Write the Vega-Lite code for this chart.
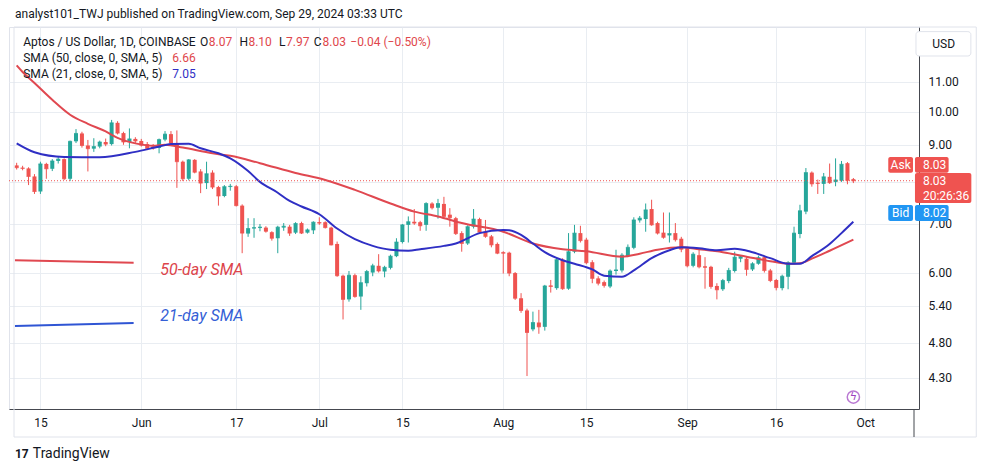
{
"$schema":"https://vega.github.io/schema/vega-lite/v6.json",
"width":910,"height":382,
"autosize":{"type":"none"},
"padding":{"left":9,"top":27,"right":72,"bottom":63},
"background":"white",
"config":{"view":{"stroke":"#e0e3eb"},"font":"Roboto","text":{"font":"Roboto"}},
"resolve":{"axis":{"x":"independent","y":"independent"}},
"data":{"values":[{}]},
"datasets":{
"candles":[
{"d":"2024-05-11","o":8.43,"h":8.50,"l":8.32,"c":8.37},
{"d":"2024-05-12","o":8.37,"h":8.42,"l":8.30,"c":8.35},
{"d":"2024-05-13","o":8.35,"h":8.38,"l":7.92,"c":8.14},
{"d":"2024-05-14","o":8.14,"h":8.20,"l":7.70,"c":7.76},
{"d":"2024-05-15","o":7.76,"h":8.53,"l":7.70,"c":8.47},
{"d":"2024-05-16","o":8.47,"h":8.50,"l":8.08,"c":8.34},
{"d":"2024-05-17","o":8.34,"h":8.60,"l":8.28,"c":8.55},
{"d":"2024-05-18","o":8.55,"h":8.67,"l":8.48,"c":8.60},
{"d":"2024-05-19","o":8.60,"h":8.62,"l":8.05,"c":8.08},
{"d":"2024-05-20","o":8.08,"h":9.12,"l":8.02,"c":9.10},
{"d":"2024-05-21","o":9.10,"h":9.46,"l":9.05,"c":9.33},
{"d":"2024-05-22","o":9.33,"h":9.38,"l":8.92,"c":8.98},
{"d":"2024-05-23","o":8.98,"h":9.14,"l":8.27,"c":8.89},
{"d":"2024-05-24","o":8.89,"h":9.19,"l":8.80,"c":8.95},
{"d":"2024-05-25","o":8.95,"h":9.12,"l":8.90,"c":9.08},
{"d":"2024-05-26","o":9.08,"h":9.18,"l":8.96,"c":9.02},
{"d":"2024-05-27","o":9.02,"h":9.74,"l":8.98,"c":9.65},
{"d":"2024-05-28","o":9.65,"h":9.70,"l":9.30,"c":9.34},
{"d":"2024-05-29","o":9.34,"h":9.38,"l":9.00,"c":9.08},
{"d":"2024-05-30","o":9.08,"h":9.48,"l":8.90,"c":9.17},
{"d":"2024-05-31","o":9.17,"h":9.22,"l":9.05,"c":9.11},
{"d":"2024-06-01","o":9.11,"h":9.17,"l":8.95,"c":8.99},
{"d":"2024-06-02","o":9.02,"h":9.08,"l":8.85,"c":8.90},
{"d":"2024-06-03","o":8.95,"h":9.02,"l":8.86,"c":8.91},
{"d":"2024-06-04","o":8.91,"h":9.18,"l":8.76,"c":9.15},
{"d":"2024-06-05","o":9.15,"h":9.40,"l":9.10,"c":9.31},
{"d":"2024-06-06","o":9.31,"h":9.40,"l":9.00,"c":9.05},
{"d":"2024-06-07","o":9.05,"h":9.42,"l":7.85,"c":8.53},
{"d":"2024-06-08","o":8.53,"h":8.56,"l":8.02,"c":8.08},
{"d":"2024-06-09","o":8.08,"h":8.60,"l":8.04,"c":8.58},
{"d":"2024-06-10","o":8.58,"h":8.60,"l":8.22,"c":8.25},
{"d":"2024-06-11","o":8.27,"h":8.33,"l":7.72,"c":7.97},
{"d":"2024-06-12","o":7.97,"h":8.53,"l":7.82,"c":8.21},
{"d":"2024-06-13","o":8.24,"h":8.30,"l":7.82,"c":7.87},
{"d":"2024-06-14","o":7.87,"h":7.90,"l":7.42,"c":7.65},
{"d":"2024-06-15","o":7.65,"h":7.92,"l":7.62,"c":7.88},
{"d":"2024-06-16","o":7.87,"h":7.95,"l":7.78,"c":7.89},
{"d":"2024-06-17","o":7.89,"h":7.92,"l":7.40,"c":7.42},
{"d":"2024-06-18","o":7.42,"h":7.45,"l":6.38,"c":6.80},
{"d":"2024-06-19","o":6.79,"h":7.13,"l":6.72,"c":6.90},
{"d":"2024-06-20","o":6.90,"h":7.13,"l":6.70,"c":6.92},
{"d":"2024-06-21","o":6.91,"h":7.00,"l":6.84,"c":6.93},
{"d":"2024-06-22","o":6.92,"h":6.95,"l":6.81,"c":6.84},
{"d":"2024-06-23","o":6.82,"h":6.84,"l":6.64,"c":6.69},
{"d":"2024-06-24","o":6.69,"h":6.96,"l":6.38,"c":6.93},
{"d":"2024-06-25","o":6.92,"h":7.02,"l":6.85,"c":6.95},
{"d":"2024-06-26","o":6.94,"h":6.98,"l":6.74,"c":6.80},
{"d":"2024-06-27","o":6.81,"h":7.04,"l":6.78,"c":7.01},
{"d":"2024-06-28","o":7.02,"h":7.05,"l":6.78,"c":6.80},
{"d":"2024-06-29","o":6.81,"h":6.90,"l":6.79,"c":6.87},
{"d":"2024-06-30","o":6.86,"h":7.06,"l":6.78,"c":7.04},
{"d":"2024-07-01","o":7.04,"h":7.15,"l":6.98,"c":7.02},
{"d":"2024-07-02","o":7.04,"h":7.06,"l":6.90,"c":6.92},
{"d":"2024-07-03","o":6.92,"h":6.94,"l":6.54,"c":6.55},
{"d":"2024-07-04","o":6.57,"h":6.62,"l":5.92,"c":5.94},
{"d":"2024-07-05","o":5.94,"h":5.96,"l":5.17,"c":5.51},
{"d":"2024-07-06","o":5.51,"h":6.03,"l":5.47,"c":5.95},
{"d":"2024-07-07","o":5.95,"h":5.98,"l":5.54,"c":5.56},
{"d":"2024-07-08","o":5.56,"h":5.93,"l":5.33,"c":5.81},
{"d":"2024-07-09","o":5.80,"h":6.05,"l":5.74,"c":6.02},
{"d":"2024-07-10","o":6.00,"h":6.17,"l":5.93,"c":6.13},
{"d":"2024-07-11","o":6.13,"h":6.36,"l":6.00,"c":6.03},
{"d":"2024-07-12","o":6.02,"h":6.13,"l":5.91,"c":6.10},
{"d":"2024-07-13","o":6.09,"h":6.35,"l":6.06,"c":6.32},
{"d":"2024-07-14","o":6.32,"h":6.69,"l":6.30,"c":6.61},
{"d":"2024-07-15","o":6.61,"h":7.00,"l":6.58,"c":6.98},
{"d":"2024-07-16","o":6.98,"h":7.17,"l":6.60,"c":7.05},
{"d":"2024-07-17","o":7.05,"h":7.34,"l":6.98,"c":7.02},
{"d":"2024-07-18","o":7.04,"h":7.07,"l":6.85,"c":6.96},
{"d":"2024-07-19","o":6.98,"h":7.50,"l":6.85,"c":7.47},
{"d":"2024-07-20","o":7.47,"h":7.50,"l":7.33,"c":7.37},
{"d":"2024-07-21","o":7.37,"h":7.58,"l":7.12,"c":7.47},
{"d":"2024-07-22","o":7.46,"h":7.63,"l":7.12,"c":7.17},
{"d":"2024-07-23","o":7.21,"h":7.36,"l":6.94,"c":7.14},
{"d":"2024-07-24","o":7.13,"h":7.16,"l":6.76,"c":6.79},
{"d":"2024-07-25","o":6.80,"h":6.84,"l":6.41,"c":6.58},
{"d":"2024-07-26","o":6.58,"h":6.97,"l":6.55,"c":6.94},
{"d":"2024-07-27","o":6.94,"h":7.34,"l":6.90,"c":7.11},
{"d":"2024-07-28","o":7.11,"h":7.14,"l":6.78,"c":6.82},
{"d":"2024-07-29","o":6.83,"h":7.09,"l":6.70,"c":6.73},
{"d":"2024-07-30","o":6.73,"h":6.76,"l":6.50,"c":6.55},
{"d":"2024-07-31","o":6.57,"h":6.60,"l":6.36,"c":6.38},
{"d":"2024-08-01","o":6.40,"h":6.42,"l":5.98,"c":6.38},
{"d":"2024-08-02","o":6.39,"h":6.41,"l":5.93,"c":5.99},
{"d":"2024-08-03","o":5.99,"h":6.01,"l":5.50,"c":5.53},
{"d":"2024-08-04","o":5.53,"h":5.62,"l":5.28,"c":5.32},
{"d":"2024-08-05","o":5.32,"h":5.35,"l":4.32,"c":4.96},
{"d":"2024-08-06","o":5.01,"h":5.30,"l":4.98,"c":5.12},
{"d":"2024-08-07","o":5.12,"h":5.33,"l":4.94,"c":5.05},
{"d":"2024-08-08","o":5.05,"h":5.77,"l":4.99,"c":5.75},
{"d":"2024-08-09","o":5.76,"h":5.86,"l":5.63,"c":5.74},
{"d":"2024-08-10","o":5.71,"h":6.30,"l":5.68,"c":6.25},
{"d":"2024-08-11","o":6.25,"h":6.28,"l":5.68,"c":5.70},
{"d":"2024-08-12","o":5.70,"h":6.80,"l":5.68,"c":6.41},
{"d":"2024-08-13","o":6.41,"h":6.98,"l":6.38,"c":6.80},
{"d":"2024-08-14","o":6.80,"h":6.96,"l":6.60,"c":6.64},
{"d":"2024-08-15","o":6.66,"h":6.70,"l":6.16,"c":6.19},
{"d":"2024-08-16","o":6.20,"h":6.24,"l":5.80,"c":5.89},
{"d":"2024-08-17","o":5.89,"h":5.93,"l":5.76,"c":5.80},
{"d":"2024-08-18","o":5.82,"h":5.85,"l":5.72,"c":5.76},
{"d":"2024-08-19","o":5.74,"h":6.06,"l":5.71,"c":6.03},
{"d":"2024-08-20","o":6.03,"h":6.45,"l":5.96,"c":6.05},
{"d":"2024-08-21","o":6.04,"h":6.38,"l":6.00,"c":6.34},
{"d":"2024-08-22","o":6.32,"h":6.56,"l":6.30,"c":6.50},
{"d":"2024-08-23","o":6.49,"h":7.15,"l":6.46,"c":7.09},
{"d":"2024-08-24","o":7.08,"h":7.18,"l":7.03,"c":7.13},
{"d":"2024-08-25","o":7.11,"h":7.47,"l":6.83,"c":7.32},
{"d":"2024-08-26","o":7.34,"h":7.56,"l":6.96,"c":6.98},
{"d":"2024-08-27","o":7.02,"h":7.05,"l":6.77,"c":6.80},
{"d":"2024-08-28","o":6.81,"h":7.26,"l":6.68,"c":6.71},
{"d":"2024-08-29","o":6.75,"h":7.26,"l":6.60,"c":6.79},
{"d":"2024-08-30","o":6.80,"h":7.02,"l":6.62,"c":6.66},
{"d":"2024-08-31","o":6.68,"h":6.72,"l":6.40,"c":6.46},
{"d":"2024-09-01","o":6.48,"h":6.51,"l":6.10,"c":6.13},
{"d":"2024-09-02","o":6.13,"h":6.40,"l":6.10,"c":6.36},
{"d":"2024-09-03","o":6.34,"h":6.45,"l":6.08,"c":6.11},
{"d":"2024-09-04","o":6.12,"h":6.30,"l":5.70,"c":6.10},
{"d":"2024-09-05","o":6.11,"h":6.13,"l":5.70,"c":5.74},
{"d":"2024-09-06","o":5.75,"h":5.80,"l":5.51,"c":5.68},
{"d":"2024-09-07","o":5.69,"h":5.88,"l":5.66,"c":5.85},
{"d":"2024-09-08","o":5.84,"h":6.09,"l":5.80,"c":6.04},
{"d":"2024-09-09","o":6.03,"h":6.41,"l":6.00,"c":6.30},
{"d":"2024-09-10","o":6.27,"h":6.33,"l":6.20,"c":6.31},
{"d":"2024-09-11","o":6.27,"h":6.30,"l":5.94,"c":6.06},
{"d":"2024-09-12","o":6.06,"h":6.20,"l":6.03,"c":6.17},
{"d":"2024-09-13","o":6.17,"h":6.33,"l":6.15,"c":6.29},
{"d":"2024-09-14","o":6.30,"h":6.33,"l":6.00,"c":6.04},
{"d":"2024-09-15","o":6.04,"h":6.07,"l":5.82,"c":5.85},
{"d":"2024-09-16","o":5.86,"h":5.88,"l":5.67,"c":5.72},
{"d":"2024-09-17","o":5.71,"h":5.96,"l":5.67,"c":5.93},
{"d":"2024-09-18","o":5.92,"h":6.22,"l":5.69,"c":6.19},
{"d":"2024-09-19","o":6.19,"h":6.94,"l":6.16,"c":6.80},
{"d":"2024-09-20","o":6.78,"h":7.44,"l":6.69,"c":7.30},
{"d":"2024-09-21","o":7.28,"h":8.36,"l":7.22,"c":8.24},
{"d":"2024-09-22","o":8.24,"h":8.27,"l":7.88,"c":7.95},
{"d":"2024-09-23","o":7.98,"h":8.06,"l":7.70,"c":7.96},
{"d":"2024-09-24","o":7.95,"h":8.23,"l":7.70,"c":8.13},
{"d":"2024-09-25","o":8.13,"h":8.48,"l":7.95,"c":7.98},
{"d":"2024-09-26","o":8.00,"h":8.62,"l":7.89,"c":8.05},
{"d":"2024-09-27","o":8.03,"h":8.55,"l":8.00,"c":8.46},
{"d":"2024-09-28","o":8.49,"h":8.52,"l":7.94,"c":8.04},
{"d":"2024-09-29","o":8.07,"h":8.10,"l":7.97,"c":8.03}
],
"sma50":[
{"d":"2024-05-11","v":11.58},{"d":"2024-05-12","v":11.34},{"d":"2024-05-14","v":10.95},{"d":"2024-05-17","v":10.38},
{"d":"2024-05-20","v":9.90},{"d":"2024-05-23","v":9.62},{"d":"2024-05-26","v":9.39},{"d":"2024-05-28","v":9.20},
{"d":"2024-05-31","v":9.04},{"d":"2024-06-03","v":8.97},{"d":"2024-06-05","v":9.00},{"d":"2024-06-08","v":8.92},
{"d":"2024-06-13","v":8.76},{"d":"2024-06-16","v":8.69},{"d":"2024-06-21","v":8.49},{"d":"2024-06-27","v":8.23},
{"d":"2024-07-02","v":8.05},{"d":"2024-07-07","v":7.80},{"d":"2024-07-13","v":7.47},{"d":"2024-07-17","v":7.28},
{"d":"2024-07-21","v":7.17},{"d":"2024-07-25","v":7.02},{"d":"2024-08-01","v":6.83},{"d":"2024-08-06","v":6.58},
{"d":"2024-08-11","v":6.46},{"d":"2024-08-15","v":6.42},{"d":"2024-08-21","v":6.31},{"d":"2024-08-24","v":6.37},
{"d":"2024-08-27","v":6.45},{"d":"2024-08-31","v":6.50},{"d":"2024-09-03","v":6.46},{"d":"2024-09-07","v":6.40},
{"d":"2024-09-11","v":6.31},{"d":"2024-09-15","v":6.22},{"d":"2024-09-18","v":6.17},{"d":"2024-09-20","v":6.18},
{"d":"2024-09-22","v":6.27},{"d":"2024-09-25","v":6.43},{"d":"2024-09-29","v":6.66}
],
"sma21":[
{"d":"2024-05-11","v":9.04},{"d":"2024-05-14","v":8.79},{"d":"2024-05-19","v":8.66},{"d":"2024-05-25","v":8.65},
{"d":"2024-05-31","v":8.80},{"d":"2024-06-04","v":8.95},{"d":"2024-06-06","v":9.02},{"d":"2024-06-09","v":9.03},
{"d":"2024-06-11","v":8.90},{"d":"2024-06-14","v":8.76},{"d":"2024-06-16","v":8.62},{"d":"2024-06-19","v":8.28},
{"d":"2024-06-21","v":8.00},{"d":"2024-06-24","v":7.73},{"d":"2024-06-26","v":7.53},{"d":"2024-06-28","v":7.40},
{"d":"2024-07-01","v":7.22},{"d":"2024-07-04","v":6.90},{"d":"2024-07-07","v":6.67},{"d":"2024-07-10","v":6.53},
{"d":"2024-07-13","v":6.45},{"d":"2024-07-16","v":6.43},{"d":"2024-07-18","v":6.46},{"d":"2024-07-22","v":6.53},
{"d":"2024-07-24","v":6.58},{"d":"2024-07-28","v":6.80},{"d":"2024-08-01","v":6.87},{"d":"2024-08-02","v":6.86},
{"d":"2024-08-04","v":6.76},{"d":"2024-08-06","v":6.58},{"d":"2024-08-08","v":6.40},{"d":"2024-08-11","v":6.24},
{"d":"2024-08-13","v":6.17},{"d":"2024-08-16","v":6.06},{"d":"2024-08-18","v":5.94},{"d":"2024-08-21","v":5.92},
{"d":"2024-08-23","v":6.04},{"d":"2024-08-26","v":6.28},{"d":"2024-08-29","v":6.44},{"d":"2024-08-31","v":6.50},
{"d":"2024-09-03","v":6.48},{"d":"2024-09-06","v":6.44},{"d":"2024-09-09","v":6.47},{"d":"2024-09-12","v":6.40},
{"d":"2024-09-15","v":6.28},{"d":"2024-09-18","v":6.17},{"d":"2024-09-20","v":6.17},{"d":"2024-09-22","v":6.32},
{"d":"2024-09-25","v":6.57},{"d":"2024-09-27","v":6.80},{"d":"2024-09-29","v":7.05}
]
},
"layer":[
{"data":{"name":"candles"},
 "mark":{"type":"rule","strokeWidth":1},
 "encoding":{
  "x":{"field":"d","type":"temporal","title":null,
   "scale":{"type":"utc","domain":[{"year":2024,"month":5,"date":10,"hours":13,"minutes":12,"utc":true},{"year":2024,"month":10,"date":9,"hours":5,"minutes":12,"utc":true}]},
   "axis":{"orient":"bottom","values":[{"year":2024,"month":5,"date":15,"utc":true},{"year":2024,"month":6,"date":1,"utc":true},{"year":2024,"month":6,"date":17,"utc":true},{"year":2024,"month":7,"date":1,"utc":true},{"year":2024,"month":7,"date":15,"utc":true},{"year":2024,"month":8,"date":1,"utc":true},{"year":2024,"month":8,"date":15,"utc":true},{"year":2024,"month":9,"date":1,"utc":true},{"year":2024,"month":9,"date":16,"utc":true},{"year":2024,"month":10,"date":1,"utc":true}],
    "labelExpr":"utcdate(datum.value) == 1 ? utcFormat(datum.value, '%b') : utcFormat(datum.value, '%d')",
    "grid":true,"gridColor":"#e9edf2","ticks":false,"domainColor":"#45484f","labelColor":"#131722","labelFont":"Roboto","labelFontSize":12,"labelPadding":8,"labelFlush":false,"labelOverlap":false}},
  "y":{"field":"l","type":"quantitative","title":null,
   "scale":{"type":"log","domain":[3.891,13.08],"nice":false,"zero":false},
   "axis":{"orient":"right","values":[4.3,4.8,5.4,6,7,8,9,10,11],"labelExpr":"datum.value == 8 ? '' : format(datum.value, '.2f')",
    "grid":true,"gridColor":"#e9edf2","ticks":false,"domainColor":"#45484f","labelColor":"#131722","labelFont":"Roboto","labelFontSize":12,"labelPadding":9,"labelBaseline":"middle","labelOverlap":false}},
  "y2":{"field":"h"},
  "color":{"condition":{"test":"datum.c >= datum.o","value":"#26a69a"},"value":"#ef5350"}
 }},
{"data":{"name":"candles"},
 "mark":{"type":"bar","size":4},
 "encoding":{
  "x":{"field":"d","type":"temporal","axis":null},
  "y":{"field":"o","type":"quantitative","axis":null},
  "y2":{"field":"c"},
  "color":{"condition":{"test":"datum.c >= datum.o","value":"#26a69a"},"value":"#ef5350"}
 }},
{"data":{"name":"candles"},
 "mark":{"type":"tick","orient":"horizontal","size":4,"thickness":1},
 "encoding":{
  "x":{"field":"d","type":"temporal","axis":null},
  "y":{"field":"c","type":"quantitative","axis":null},
  "color":{"condition":{"test":"datum.c >= datum.o","value":"#26a69a"},"value":"#ef5350"}
 }},
{"data":{"name":"sma50"},
 "mark":{"type":"line","color":"#e04850","strokeWidth":2,"interpolate":"monotone"},
 "encoding":{"x":{"field":"d","type":"temporal","axis":null},"y":{"field":"v","type":"quantitative","axis":null}}},
{"data":{"name":"sma21"},
 "mark":{"type":"line","color":"#2f2fc4","strokeWidth":2,"interpolate":"monotone"},
 "encoding":{"x":{"field":"d","type":"temporal","axis":null},"y":{"field":"v","type":"quantitative","axis":null}}},
{"data":{"values":[{"d":"2024-05-10T17:00:00Z","v":6.24},{"d":"2024-05-30T17:00:00Z","v":6.19}]},
 "mark":{"type":"line","color":"#e04850","strokeWidth":2},
 "encoding":{"x":{"field":"d","type":"temporal","axis":null},"y":{"field":"v","type":"quantitative","axis":null}}},
{"data":{"values":[{"d":"2024-05-10T17:00:00Z","v":5.064},{"d":"2024-05-30T17:00:00Z","v":5.113}]},
 "mark":{"type":"line","color":"#2f55d4","strokeWidth":2},
 "encoding":{"x":{"field":"d","type":"temporal","axis":null},"y":{"field":"v","type":"quantitative","axis":null}}},
{"mark":{"type":"rule","color":"#ef5350","strokeDash":[1,2],"strokeWidth":1},
 "encoding":{"y":{"datum":8.03,"type":"quantitative","axis":null}}},
{"mark":{"type":"text","align":"left","baseline":"middle","fontSize":16,"fontStyle":"italic","color":"#dc444b"},
 "encoding":{"x":{"datum":{"year":2024,"month":6,"date":4,"hours":5,"minutes":12,"utc":true},"type":"temporal","axis":null},"y":{"datum":6.05,"type":"quantitative","axis":null},"text":{"value":"50-day SMA"}}},
{"mark":{"type":"text","align":"left","baseline":"middle","fontSize":16,"fontStyle":"italic","color":"#3460d6"},
 "encoding":{"x":{"datum":{"year":2024,"month":6,"date":4,"hours":5,"minutes":12,"utc":true},"type":"temporal","axis":null},"y":{"datum":5.228,"type":"quantitative","axis":null},"text":{"value":"21-day SMA"}}},
{"mark":{"type":"text","align":"left","baseline":"middle","fontSize":12,"color":"#131722"},
 "encoding":{"x":{"datum":{"year":2024,"month":5,"date":10,"hours":17,"minutes":12,"utc":true},"type":"temporal","axis":null},"y":{"datum":13.61,"type":"quantitative","axis":null},"text":{"value":"analyst101_TWJ published on TradingView.com, Sep 29, 2024 03:33 UTC"}}},
{"mark":{"type":"text","align":"left","baseline":"middle","fontSize":12,"color":"#131722"},
 "encoding":{"x":{"datum":{"year":2024,"month":5,"date":12,"hours":2,"minutes":30,"utc":true},"type":"temporal","axis":null},"y":{"datum":12.48,"type":"quantitative","axis":null},"text":{"value":"Aptos / US Dollar, 1D, COINBASE"}}},
{"mark":{"type":"text","align":"left","baseline":"middle","fontSize":12,"color":"#131722"},
 "encoding":{"x":{"datum":{"year":2024,"month":6,"date":10,"hours":21,"minutes":12,"utc":true},"type":"temporal","axis":null},"y":{"datum":12.48,"type":"quantitative","axis":null},"text":{"value":"O"}}},
{"mark":{"type":"text","align":"left","baseline":"middle","fontSize":12,"color":"#e0474c"},
 "encoding":{"x":{"datum":{"year":2024,"month":6,"date":12,"hours":9,"minutes":12,"utc":true},"type":"temporal","axis":null},"y":{"datum":12.48,"type":"quantitative","axis":null},"text":{"value":"8.07"}}},
{"mark":{"type":"text","align":"left","baseline":"middle","fontSize":12,"color":"#131722"},
 "encoding":{"x":{"datum":{"year":2024,"month":6,"date":17,"hours":13,"minutes":12,"utc":true},"type":"temporal","axis":null},"y":{"datum":12.48,"type":"quantitative","axis":null},"text":{"value":"H"}}},
{"mark":{"type":"text","align":"left","baseline":"middle","fontSize":12,"color":"#e0474c"},
 "encoding":{"x":{"datum":{"year":2024,"month":6,"date":19,"hours":1,"minutes":12,"utc":true},"type":"temporal","axis":null},"y":{"datum":12.48,"type":"quantitative","axis":null},"text":{"value":"8.10"}}},
{"mark":{"type":"text","align":"left","baseline":"middle","fontSize":12,"color":"#131722"},
 "encoding":{"x":{"datum":{"year":2024,"month":6,"date":24,"hours":5,"minutes":12,"utc":true},"type":"temporal","axis":null},"y":{"datum":12.48,"type":"quantitative","axis":null},"text":{"value":"L"}}},
{"mark":{"type":"text","align":"left","baseline":"middle","fontSize":12,"color":"#e0474c"},
 "encoding":{"x":{"datum":{"year":2024,"month":6,"date":25,"hours":9,"minutes":12,"utc":true},"type":"temporal","axis":null},"y":{"datum":12.48,"type":"quantitative","axis":null},"text":{"value":"7.97"}}},
{"mark":{"type":"text","align":"left","baseline":"middle","fontSize":12,"color":"#131722"},
 "encoding":{"x":{"datum":{"year":2024,"month":6,"date":30,"hours":1,"minutes":12,"utc":true},"type":"temporal","axis":null},"y":{"datum":12.48,"type":"quantitative","axis":null},"text":{"value":"C"}}},
{"mark":{"type":"text","align":"left","baseline":"middle","fontSize":12,"color":"#e0474c"},
 "encoding":{"x":{"datum":{"year":2024,"month":7,"date":1,"hours":13,"minutes":12,"utc":true},"type":"temporal","axis":null},"y":{"datum":12.48,"type":"quantitative","axis":null},"text":{"value":"8.03"}}},
{"mark":{"type":"text","align":"left","baseline":"middle","fontSize":12,"color":"#e0474c"},
 "encoding":{"x":{"datum":{"year":2024,"month":7,"date":6,"hours":5,"minutes":12,"utc":true},"type":"temporal","axis":null},"y":{"datum":12.48,"type":"quantitative","axis":null},"text":{"value":"−0.04 (−0.50%)"}}},
{"mark":{"type":"text","align":"left","baseline":"middle","fontSize":12,"color":"#131722"},
 "encoding":{"x":{"datum":{"year":2024,"month":5,"date":12,"hours":2,"minutes":30,"utc":true},"type":"temporal","axis":null},"y":{"datum":11.86,"type":"quantitative","axis":null},"text":{"value":"SMA (50, close, 0, SMA, 5)"}}},
{"mark":{"type":"text","align":"left","baseline":"middle","fontSize":12,"color":"#e0474c"},
 "encoding":{"x":{"datum":{"year":2024,"month":6,"date":6,"hours":5,"minutes":17,"utc":true},"type":"temporal","axis":null},"y":{"datum":11.86,"type":"quantitative","axis":null},"text":{"value":"6.66"}}},
{"mark":{"type":"text","align":"left","baseline":"middle","fontSize":12,"color":"#131722"},
 "encoding":{"x":{"datum":{"year":2024,"month":5,"date":12,"hours":2,"minutes":30,"utc":true},"type":"temporal","axis":null},"y":{"datum":11.27,"type":"quantitative","axis":null},"text":{"value":"SMA (21, close, 0, SMA, 5)"}}},
{"mark":{"type":"text","align":"left","baseline":"middle","fontSize":12,"color":"#2f2fc4"},
 "encoding":{"x":{"datum":{"year":2024,"month":6,"date":6,"hours":5,"minutes":17,"utc":true},"type":"temporal","axis":null},"y":{"datum":11.27,"type":"quantitative","axis":null},"text":{"value":"7.05"}}},
{"mark":{"type":"rect","fill":"white","stroke":"#e0e3eb","cornerRadius":3},
 "encoding":{"x":{"datum":{"year":2024,"month":10,"date":9,"hours":13,"minutes":12,"utc":true},"type":"temporal","axis":null},"x2":{"datum":{"year":2024,"month":10,"date":18,"hours":19,"minutes":12,"utc":true}},"y":{"datum":12.89,"type":"quantitative","axis":null},"y2":{"datum":11.93}}},
{"mark":{"type":"text","align":"center","baseline":"middle","fontSize":12,"color":"#131722"},
 "encoding":{"x":{"datum":{"year":2024,"month":10,"date":14,"hours":5,"minutes":17,"utc":true},"type":"temporal","axis":null},"y":{"datum":12.40,"type":"quantitative","axis":null},"text":{"value":"USD"}}},
{"mark":{"type":"rect","fill":"#ef5350","cornerRadius":2},
 "encoding":{"x":{"datum":{"year":2024,"month":10,"date":4,"hours":21,"minutes":7,"utc":true},"type":"temporal","axis":null},"x2":{"datum":{"year":2024,"month":10,"date":9,"hours":1,"minutes":12,"utc":true}},"y":{"datum":8.661,"type":"quantitative","axis":null},"y2":{"datum":8.239}}},
{"mark":{"type":"rect","fill":"#ef5350","cornerRadius":2},
 "encoding":{"x":{"datum":{"year":2024,"month":10,"date":9,"hours":9,"minutes":7,"utc":true},"type":"temporal","axis":null},"x2":{"datum":{"year":2024,"month":10,"date":15,"hours":1,"minutes":12,"utc":true}},"y":{"datum":8.661,"type":"quantitative","axis":null},"y2":{"datum":8.239}}},
{"mark":{"type":"rect","fill":"#ef5350","cornerRadius":2},
 "encoding":{"x":{"datum":{"year":2024,"month":10,"date":9,"hours":9,"minutes":7,"utc":true},"type":"temporal","axis":null},"x2":{"datum":{"year":2024,"month":10,"date":18,"hours":21,"minutes":7,"utc":true}},"y":{"datum":8.232,"type":"quantitative","axis":null},"y2":{"datum":7.484}}},
{"mark":{"type":"rect","fill":"#2196f3","cornerRadius":2},
 "encoding":{"x":{"datum":{"year":2024,"month":10,"date":4,"hours":21,"minutes":7,"utc":true},"type":"temporal","axis":null},"x2":{"datum":{"year":2024,"month":10,"date":9,"hours":1,"minutes":12,"utc":true}},"y":{"datum":7.436,"type":"quantitative","axis":null},"y2":{"datum":7.068}}},
{"mark":{"type":"rect","fill":"#2196f3","cornerRadius":2},
 "encoding":{"x":{"datum":{"year":2024,"month":10,"date":9,"hours":9,"minutes":7,"utc":true},"type":"temporal","axis":null},"x2":{"datum":{"year":2024,"month":10,"date":15,"hours":1,"minutes":12,"utc":true}},"y":{"datum":7.436,"type":"quantitative","axis":null},"y2":{"datum":7.068}}},
{"mark":{"type":"text","align":"center","baseline":"middle","fontSize":12,"color":"white"},
 "encoding":{"x":{"datum":{"year":2024,"month":10,"date":6,"hours":23,"minutes":17,"utc":true},"type":"temporal","axis":null},"y":{"datum":8.443,"type":"quantitative","axis":null},"text":{"value":"Ask"}}},
{"mark":{"type":"text","align":"left","baseline":"middle","fontSize":12,"color":"white"},
 "encoding":{"x":{"datum":{"year":2024,"month":10,"date":10,"hours":17,"minutes":17,"utc":true},"type":"temporal","axis":null},"y":{"datum":8.443,"type":"quantitative","axis":null},"text":{"value":"8.03"}}},
{"mark":{"type":"text","align":"left","baseline":"middle","fontSize":12,"color":"white"},
 "encoding":{"x":{"datum":{"year":2024,"month":10,"date":10,"hours":17,"minutes":17,"utc":true},"type":"temporal","axis":null},"y":{"datum":8.025,"type":"quantitative","axis":null},"text":{"value":"8.03"}}},
{"mark":{"type":"text","align":"left","baseline":"middle","fontSize":12,"color":"white"},
 "encoding":{"x":{"datum":{"year":2024,"month":10,"date":10,"hours":17,"minutes":17,"utc":true},"type":"temporal","axis":null},"y":{"datum":7.652,"type":"quantitative","axis":null},"text":{"value":"20:26:36"}}},
{"mark":{"type":"text","align":"center","baseline":"middle","fontSize":12,"color":"white"},
 "encoding":{"x":{"datum":{"year":2024,"month":10,"date":6,"hours":23,"minutes":17,"utc":true},"type":"temporal","axis":null},"y":{"datum":7.25,"type":"quantitative","axis":null},"text":{"value":"Bid"}}},
{"mark":{"type":"text","align":"left","baseline":"middle","fontSize":12,"color":"white"},
 "encoding":{"x":{"datum":{"year":2024,"month":10,"date":10,"hours":17,"minutes":17,"utc":true},"type":"temporal","axis":null},"y":{"datum":7.25,"type":"quantitative","axis":null},"text":{"value":"8.02"}}},
{"mark":{"type":"rect","fill":null,"fillOpacity":0,"stroke":"#e0e3eb","strokeWidth":1},
 "encoding":{"x":{"datum":{"year":2024,"month":5,"date":10,"hours":13,"minutes":12,"utc":true},"type":"temporal","axis":null},"x2":{"datum":{"year":2024,"month":10,"date":19,"hours":17,"minutes":0,"utc":true}},"y":{"datum":13.08,"type":"quantitative","axis":null},"y2":{"datum":3.56}}},
{"mark":{"type":"rule","color":"#45484f","strokeWidth":1},
 "encoding":{"x":{"datum":{"year":2024,"month":10,"date":9,"hours":5,"minutes":12,"utc":true},"type":"temporal","axis":null},"y":{"datum":3.891,"type":"quantitative","axis":null},"y2":{"datum":3.56}}},
{"mark":{"type":"point","shape":"circle","filled":false,"stroke":"#9c3fc0","strokeWidth":1.5,"size":150},
 "encoding":{"x":{"datum":{"year":2024,"month":9,"date":29,"hours":0,"minutes":0,"utc":true},"type":"temporal","axis":null},"y":{"datum":4.042,"type":"quantitative","axis":null}}},
{"mark":{"type":"text","align":"center","baseline":"middle","fontSize":11,"color":"#9c3fc0","font":"DejaVu Sans"},
 "encoding":{"x":{"datum":{"year":2024,"month":9,"date":29,"hours":0,"minutes":0,"utc":true},"type":"temporal","axis":null},"y":{"datum":4.042,"type":"quantitative","axis":null},"text":{"value":"ϟ"}}},
{"mark":{"type":"text","align":"left","baseline":"middle","fontSize":12,"fontWeight":"bold","color":"#131722"},
 "encoding":{"x":{"datum":{"year":2024,"month":5,"date":10,"hours":17,"minutes":12,"utc":true},"type":"temporal","axis":null},"y":{"datum":3.373,"type":"quantitative","axis":null},"text":{"value":"17"}}},
{"mark":{"type":"text","align":"left","baseline":"middle","fontSize":14,"color":"#131722"},
 "encoding":{"x":{"datum":{"year":2024,"month":5,"date":13,"hours":17,"minutes":17,"utc":true},"type":"temporal","axis":null},"y":{"datum":3.373,"type":"quantitative","axis":null},"text":{"value":"TradingView"}}}
]
}
